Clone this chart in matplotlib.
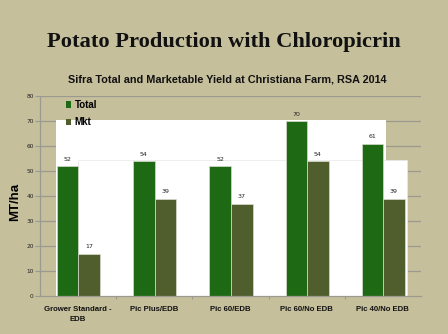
import matplotlib
matplotlib.use("Agg")
import matplotlib.pyplot as plt
from matplotlib.patches import Rectangle, Patch

categories = ["Grower Standard -\nEDB", "Pic Plus/EDB", "Pic 60/EDB", "Pic 60/No EDB", "Pic 40/No EDB"]
total = [52, 54, 52, 70, 61]
mkt = [17, 39, 37, 54, 39]
yticks = [0, 10, 20, 30, 40, 50, 60, 70, 80]

bg = "#C6BF9C"
c_total = "#1E6A14"
c_mkt = "#505E2E"

fig = plt.figure(figsize=(4.48, 3.34), dpi=100, facecolor=bg)
ax = fig.add_axes([0.0893, 0.1123, 0.8504, 0.6003])
ax.set_facecolor(bg)

ax.set_xlim(-0.5, 4.5)
ax.set_ylim(0, 80)

# horizontal gridlines
for v in yticks[1:]:
    ax.axhline(v, color="#9a9a90", lw=0.9, zorder=1)

# white backdrop panels behind the bars
ax.add_patch(Rectangle((-0.29, 0), 4.33, 70.5, facecolor="white", edgecolor="none", zorder=2))
ax.add_patch(Rectangle((0.0, 0), 4.316, 54.3, facecolor="white", edgecolor="#e8e8e8", lw=0.5, zorder=2))

xs = range(len(categories))
for i in xs:
    ax.bar(i - 0.276, total[i], width=0.28, align="edge", color=c_total,
           edgecolor="#d8dccf", lw=0.5, zorder=3)
    ax.bar(i + 0.004, mkt[i], width=0.285, align="edge", color=c_mkt,
           edgecolor="#d8dccf", lw=0.5, zorder=3)
    ax.text(i - 0.136, total[i] + 1.8, str(total[i]), ha="center", va="bottom",
            fontsize=4.5, color="#222222", zorder=4)
    ax.text(i + 0.146, mkt[i] + 1.8, str(mkt[i]), ha="center", va="bottom",
            fontsize=4.5, color="#222222", zorder=4)

for s in ["top", "right"]:
    ax.spines[s].set_visible(False)
for s in ["left", "bottom"]:
    ax.spines[s].set_color("#9a9a90")
    ax.spines[s].set_linewidth(0.9)
    ax.spines[s].set_zorder(5)

ax.set_yticks(yticks)
ax.set_yticklabels([str(v) for v in yticks], fontsize=4.2, color="#222222")
ax.tick_params(axis="y", length=3.5, width=0.8, color="#9a9a90", pad=1)

ax.set_xticks([0.5, 1.5, 2.5, 3.5], minor=False)
ax.set_xticklabels([])
ax.tick_params(axis="x", length=2.5, width=0.8, color="#9a9a90")
ax.set_xticks(list(xs), minor=True)
ax.set_xticklabels(categories, minor=True, fontsize=5.6, fontweight="bold",
                   color="#111111", family="Liberation Sans", linespacing=1.5)
ax.tick_params(axis="x", which="minor", length=0, pad=7)

ax.set_ylabel("MT/ha", fontsize=9.5, fontweight="bold", family="Liberation Sans")
ax.yaxis.set_label_coords(-0.05, 0.47)

handles = [Patch(facecolor=c_total, edgecolor="none"), Patch(facecolor=c_mkt, edgecolor="none")]
leg = fig.legend(handles, ["Total", "Mkt"], loc="upper left", bbox_to_anchor=(0.127, 0.727),
                 frameon=False, handlelength=0.6, handleheight=0.6, handletextpad=0.3,
                 labelspacing=0.75, prop={"family": "Liberation Sans", "weight": "bold", "size": 7})

fig.text(0.5, 0.873, "Potato Production with Chloropicrin", ha="center", va="center",
         fontsize=16.2, fontweight="bold", family="Liberation Serif", color="#111111")
fig.text(0.507, 0.762, "Sifra Total and Marketable Yield at Christiana Farm, RSA 2014",
         ha="center", va="center", fontsize=7.8, fontweight="bold",
         family="Liberation Sans", color="#111111")

fig.savefig("out.png", dpi=100, facecolor=bg)
